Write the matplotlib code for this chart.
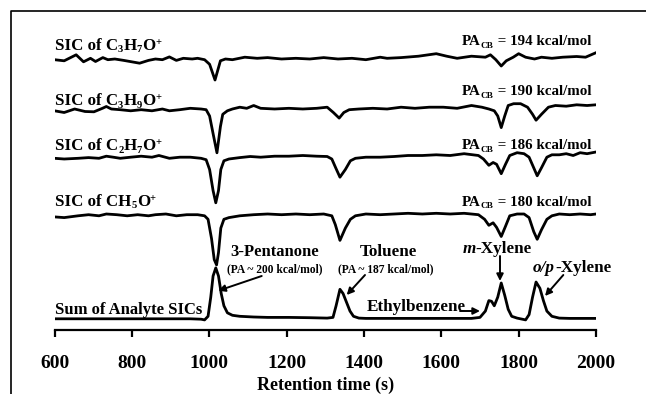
import matplotlib
matplotlib.use('Agg')
import matplotlib.pyplot as plt
from matplotlib.lines import Line2D

plt.rcParams['font.family'] = ['Liberation Serif', 'DejaVu Serif']
plt.rcParams['font.weight'] = 'bold'

# ---------------- data (retention time in s, signal in arbitrary units) ----------------
t_c3h7o = [600, 625, 656, 675, 693, 706, 725, 738, 756, 779, 820, 843, 861, 879, 897, 915, 933, 956,
           970, 988, 1001, 1015, 1029, 1042, 1060, 1092, 1124, 1151, 1187, 1224, 1260, 1296, 1333,
           1369, 1405, 1442, 1460, 1496, 1541, 1587, 1614, 1641, 1678, 1714, 1727, 1741, 1755, 1768,
           1786, 1800, 1818, 1841, 1859, 1886, 1914, 1950, 1973, 2000]
s_c3h7o = [-0.7, -1.8, 4.2, -2.8, 0.7, -2.5, 1.4, -0.7, 0, -1.4, -4.2, -1.4, 0, -0.7, 2.1, -1.4, 0.7, 0,
           0.7, -0.7, -5.3, -21, -1.8, 0, -0.7, 1.8, 0.7, 1.4, 0, 0.7, 0, 1.4, 0,
           0.7, -0.7, 1.8, 0.7, 1.4, 2.8, 5.3, 2.8, 0.7, 2.8, 1.8, 4.2, -0.7, -7, -1.8,
           1.8, 5.3, 1.8, 0, 1.8, 0.7, 1.8, 2.5, 1.8, 6.3]

t_c3h9o = [600, 625, 652, 679, 702, 724, 734, 747, 770, 797, 824, 852, 879, 897, 924, 951, 979, 992,
           1001, 1010, 1020, 1029, 1035, 1047, 1060, 1079, 1097, 1115, 1133, 1169, 1206, 1242, 1278,
           1305, 1321, 1336, 1348, 1362, 1387, 1423, 1460, 1496, 1532, 1569, 1605, 1641, 1678, 1705,
           1723, 1737, 1746, 1755, 1764, 1773, 1787, 1805, 1823, 1836, 1845, 1859, 1877, 1895, 1923,
           1950, 1977, 2000]
s_c3h9o = [-1.8, -3.5, 0, -2.5, -2.8, 0.7, 2.5, 0, -0.7, -1.8, -0.7, -1.8, 0, -1.8, -0.7, 0.7, 0, -0.7,
           -7, -24.6, -43.8, -17.5, -5.3, -1.8, 0, 1.8, 0.7, 3.5, 0.7, 0, 0.7, 0, 0.7,
           1.8, -3.5, -9.1, -3.5, -0.7, 0, 0.7, 0, 1.8, 0.7, 1.8, 1.8, 0.7, 3.5, 1.8,
           0, -1.8, -7, -18.6, -7, 3.5, 5.3, 5.3, 1.8, -5.3, -11.2, -5.3, 1.8, 3.5, 2.8,
           4.2, 3.5, 4.2]

t_c2h7o = [600, 625, 661, 688, 715, 734, 752, 770, 797, 824, 852, 870, 897, 924, 951, 979, 992, 1001,
           1010, 1017, 1024, 1030, 1038, 1051, 1079, 1106, 1133, 1169, 1206, 1242, 1278, 1305, 1317,
           1327, 1338, 1352, 1365, 1378, 1405, 1442, 1478, 1514, 1551, 1587, 1623, 1659, 1696, 1709,
           1723, 1734, 1743, 1755, 1766, 1777, 1796, 1814, 1827, 1839, 1848, 1859, 1873, 1886, 1905,
           1923, 1941, 1959, 1977, 2000]
s_c2h7o = [0, -0.7, 0, 0.7, 0, 2.1, 1.1, 0, 1.1, 2.1, 1.1, 2.8, 0, 1.1, 1.1, 0, -1.4, -11.2,
           -32.3, -44.5, -32.3, -11.2, -2.5, -0.7, 0.7, 1.8, 1.1, 2.1, 2.1, 2.8, 2.1, 1.8, -0.7,
           -9.5, -18.9, -11.2, -2.5, 0, 1.1, 1.1, 1.8, 2.8, 2.8, 3.5, 2.8, 4.6, 2.8, -0.7,
           -7, -4.2, -6, -15.4, -6, 2.8, 5.6, 4.6, 1.1, -9.5, -17.5, -9.5, 1.1, 3.5, 3.5,
           4.6, 2.8, 5.6, 4.6, 6.3]

t_ch5o = [600, 625, 661, 688, 715, 734, 761, 788, 815, 843, 861, 888, 915, 942, 970, 988, 997, 1006,
          1013, 1019, 1024, 1030, 1038, 1051, 1079, 1115, 1151, 1187, 1224, 1260, 1296, 1317, 1326,
          1338, 1352, 1365, 1378, 1405, 1442, 1478, 1514, 1551, 1587, 1623, 1659, 1696, 1712, 1723,
          1734, 1743, 1755, 1766, 1777, 1796, 1814, 1827, 1839, 1848, 1859, 1873, 1886, 1905, 1932,
          1959, 1986, 2000]
s_ch5o = [-1.1, -1.8, 0, 1.1, 0, 1.8, 1.1, 0, 1.1, 0, 1.1, 1.8, 0, 1.1, 1.1, 0, -3.5, -22.8,
          -43.8, -49.1, -36.8, -12.3, -3.5, -1.8, 0, 1.1, 1.8, 1.1, 1.8, 1.1, 1.8, 0, -8.8,
          -24.6, -12.3, -3.5, 0, 1.8, 1.1, 1.8, 2.5, 1.8, 2.5, 1.8, 2.5, 1.1, -3.5, -9.5,
          -7, -11.6, -20.7, -10.5, 0, 1.8, 1.8, -1.8, -15.8, -23.5, -14, -3.5, 0, 1.8, 1.1,
          1.8, 1.1, 1.8]

t_sum = [600, 679, 770, 861, 951, 979, 988, 997, 1004, 1010, 1017, 1024, 1031, 1038, 1047, 1060, 1079,
         1115, 1151, 1206, 1260, 1305, 1320, 1328, 1338, 1346, 1355, 1364, 1373, 1387, 1405, 1496,
         1587, 1678, 1700, 1714, 1723, 1730, 1737, 1746, 1755, 1764, 1773, 1782, 1796, 1818, 1827,
         1836, 1845, 1855, 1864, 1873, 1886, 1905, 1932, 2000]
s_sum = [0, 0, 0, 0, 0, -0.4, -1.1, 2.5, 21.7, 42.8, 50.9, 42.8, 25.3, 13, 6, 3.5, 2.5,
         1.8, 1.4, 1.4, 1.1, 0.7, 1.4, 13, 29.5, 25.3, 16.5, 7.7, 2.5, 0.7, 0.4, 0.4,
         0.4, 0.4, 1.4, 7.7, 18.2, 17.5, 13, 21.7, 35.8, 23.5, 9.5, 2.5, 0.7, -1.1, 4.2,
         21.7, 36.8, 30.5, 18.2, 7.7, 2.5, 0.7, 0.4, 0.4]

xticks = [600, 800, 1000, 1200, 1400, 1600, 1800, 2000]

# ---------------- layout ----------------
W, H = 646, 394
fig = plt.figure(figsize=(W / 100, H / 100), dpi=100)
ax = fig.add_axes([54.5 / W, 64 / H, (596 - 54.5) / W, 310 / H])

offsets = [271, 221, 171.7, 114.2, 11.2]
series = [(t_c3h7o, s_c3h7o), (t_c3h9o, s_c3h9o), (t_c2h7o, s_c2h7o),
          (t_ch5o, s_ch5o), (t_sum, s_sum)]
for (t, s), off in zip(series, offsets):
    ax.plot(t, [v + off for v in s], color='black', lw=2.0, solid_joinstyle='round')

ax.set_xlim(600, 2000)
ax.set_ylim(0, 310)
for sp in ['top', 'left', 'right']:
    ax.spines[sp].set_visible(False)
ax.spines['bottom'].set_linewidth(1.6)
ax.set_yticks([])
ax.set_xticks(xticks)
ax.set_xticklabels([str(v) for v in xticks])
ax.tick_params(axis='x', direction='out', length=5, width=1.6, pad=13, labelsize=14)
for lab in ax.get_xticklabels():
    lab.set_fontweight('bold')
ax.patch.set_visible(False)

renderer = fig.canvas.get_renderer()


def ftext(px, py, s, **kw):
    kw.setdefault('va', 'baseline')
    return fig.text(px / W, 1 - py / H, s, fontweight='bold', **kw)


def rich(px, py, parts, size, ha='left'):
    """parts: list of (text, kind) with kind in 'n', 'sub', 'sup', 'it'."""
    items = []
    for s, kind in parts:
        fs = size * 0.62 if kind in ('sub', 'sup') else size
        style = 'italic' if kind == 'it' else 'normal'
        dy = {'sub': 2.5, 'sup': -size * 0.42}.get(kind, 0)
        t = fig.text(0, 0, s, fontsize=fs, fontweight='bold', fontstyle=style, va='baseline')
        w = t.get_window_extent(renderer).width
        items.append((t, w, dy))
    total = sum(w for _, w, _ in items)
    x = px - (total if ha == 'right' else total / 2 if ha == 'center' else 0)
    for t, w, dy in items:
        t.set_position((x / W, 1 - (py + dy) / H))
        x += w


ftext(325.5, 390, 'Retention time (s)', ha='center', fontsize=13)

# trace labels
rich(55, 50, [('SIC of C', 'n'), ('3', 'sub'), ('H', 'n'), ('7', 'sub'), ('O', 'n'), ('+', 'sup')], 12.2)
rich(55, 105, [('SIC of C', 'n'), ('3', 'sub'), ('H', 'n'), ('9', 'sub'), ('O', 'n'), ('+', 'sup')], 12.2)
rich(55, 150, [('SIC of C', 'n'), ('2', 'sub'), ('H', 'n'), ('7', 'sub'), ('O', 'n'), ('+', 'sup')], 12.2)
rich(55, 206, [('SIC of CH', 'n'), ('5', 'sub'), ('O', 'n'), ('+', 'sup')], 12.2)
ftext(55, 314, 'Sum of Analyte SICs', fontsize=12)

for py, val in [(45, '194'), (95, '190'), (149, '186'), (206, '180')]:
    rich(591, py, [('PA', 'n'), ('CB', 'sub'), (' = %s kcal/mol' % val, 'n')], 10.8, ha='right')

# compound annotations
ftext(274.5, 256, '3-Pentanone', ha='center', fontsize=12)
ftext(274.5, 272, '(PA ~ 200 kcal/mol)', ha='center', fontsize=8.3)
ftext(388.7, 256, 'Toluene', ha='center', fontsize=12.3)
ftext(386, 272, '(PA ~ 187 kcal/mol)', ha='center', fontsize=8.3)
rich(497, 253, [('m', 'it'), ('-Xylene', 'n')], 12.3, ha='center')
rich(572, 272, [('o/p', 'it'), ('-Xylene', 'n')], 12.3, ha='center')
ftext(416, 311, 'Ethylbenzene', ha='center', fontsize=12.3)


def arrow(x1, y1, x2, y2):
    ax.annotate('', xy=(x2, H - y2), xytext=(x1, H - y1), xycoords='figure pixels',
                textcoords='figure pixels',
                arrowprops=dict(arrowstyle='-|>', lw=1.4, color='black', mutation_scale=10,
                                shrinkA=0, shrinkB=0))


arrow(261.7, 276, 218.3, 290.7)
arrow(365, 275, 346.7, 295)
arrow(500, 256, 500, 281)
arrow(563.3, 275, 545, 296)
arrow(460, 311, 480, 311)

# outer frame (left and top edges)
fig.add_artist(Line2D([11 / W, 11 / W, 1], [0, 1 - 11 / H, 1 - 11 / H],
                      transform=fig.transFigure, color='black', lw=1.2))

fig.savefig('out.png', dpi=100)
